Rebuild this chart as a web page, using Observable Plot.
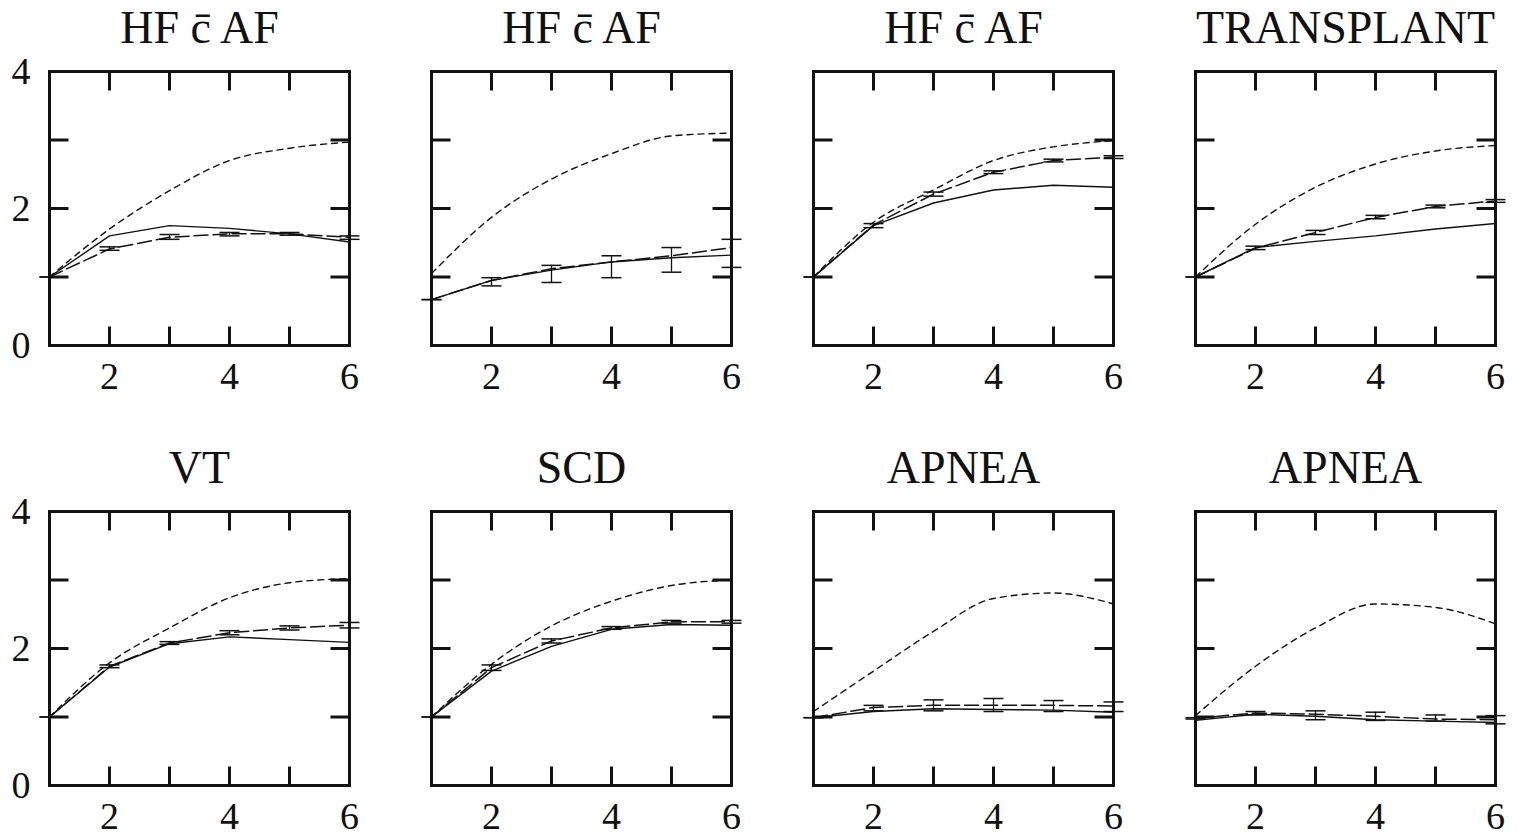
<!DOCTYPE html>
<html>
<head>
<meta charset="utf-8">
<script src="https://cdn.jsdelivr.net/npm/d3@7"></script>
<script src="https://cdn.jsdelivr.net/npm/@observablehq/plot@0.6"></script>
<style>
  html, body { margin: 0; padding: 0; background: #fff; overflow: hidden; font-family: "Liberation Serif", serif; }
  #chart { position: relative; width: 1518px; height: 834px; background: #fff; }
  #chart svg { position: absolute; overflow: visible; }
  #chart svg text { font-family: "Liberation Serif", serif !important; }
</style>
</head>
<body>
<div id="chart"></div>
<script>
// ---- data ----
const titles = ["HF c\u0304 AF", "HF c\u0304 AF", "HF c\u0304 AF", "TRANSPLANT", "VT", "SCD", "APNEA", "APNEA"];
const steps = [1, 2, 3, 4, 5, 6];
const xTickLabels = [2, 4, 6];
const yTickLabels = [0, 2, 4];
const innerXTicks = [2, 3, 4, 5];
const innerYTicks = [1, 2, 3];

// solid line
const solidSeries = [
  [1.00, 1.60, 1.75, 1.71, 1.63, 1.51],
  [0.67, 0.95, 1.10, 1.22, 1.28, 1.32],
  [1.00, 1.75, 2.08, 2.27, 2.34, 2.31],
  [1.00, 1.43, 1.52, 1.60, 1.70, 1.78],
  [1.00, 1.73, 2.07, 2.17, 2.13, 2.09],
  [1.00, 1.67, 2.03, 2.28, 2.35, 2.34],
  [0.99, 1.08, 1.12, 1.11, 1.10, 1.07],
  [0.95, 1.04, 1.01, 0.96, 0.94, 0.92]
];
// long-dashed line (with error bars)
const dashedSeries = [
  [1.00, 1.41, 1.58, 1.63, 1.63, 1.58],
  [0.67, 0.95, 1.12, 1.22, 1.31, 1.43],
  [1.00, 1.76, 2.21, 2.53, 2.70, 2.75],
  [1.00, 1.42, 1.65, 1.87, 2.03, 2.11],
  [1.00, 1.74, 2.08, 2.23, 2.30, 2.34],
  [1.00, 1.72, 2.11, 2.30, 2.39, 2.39],
  [0.99, 1.14, 1.17, 1.17, 1.17, 1.16],
  [0.98, 1.06, 1.04, 1.01, 0.97, 0.96]
];
const dashedLow = [
  [1.00, 1.39, 1.55, 1.60, 1.61, 1.55],
  [0.67, 0.87, 0.92, 0.99, 1.07, 1.14],
  [1.00, 1.72, 2.18, 2.51, 2.68, 2.73],
  [1.00, 1.40, 1.62, 1.85, 2.01, 2.09],
  [1.00, 1.72, 2.06, 2.20, 2.27, 2.30],
  [1.00, 1.68, 2.08, 2.28, 2.37, 2.37],
  [0.99, 1.09, 1.09, 1.08, 1.08, 1.08],
  [0.97, 1.03, 0.96, 0.95, 0.94, 0.90]
];
const dashedHigh = [
  [1.00, 1.44, 1.62, 1.65, 1.65, 1.60],
  [0.67, 0.99, 1.17, 1.31, 1.43, 1.55],
  [1.00, 1.78, 2.24, 2.55, 2.72, 2.77],
  [1.00, 1.45, 1.68, 1.90, 2.05, 2.13],
  [1.00, 1.76, 2.10, 2.26, 2.33, 2.38],
  [1.00, 1.76, 2.14, 2.32, 2.41, 2.41],
  [0.99, 1.17, 1.25, 1.27, 1.24, 1.22],
  [0.99, 1.08, 1.09, 1.07, 1.03, 1.02]
];
// short-dashed line
const dottedSeries = [
  [1.00, 1.70, 2.26, 2.70, 2.88, 2.97],
  [1.05, 1.87, 2.43, 2.80, 3.06, 3.10],
  [1.00, 1.80, 2.27, 2.70, 2.90, 2.99],
  [1.00, 1.77, 2.31, 2.65, 2.84, 2.92],
  [1.00, 1.79, 2.30, 2.74, 2.96, 3.02],
  [1.00, 1.77, 2.33, 2.69, 2.92, 3.00],
  [1.08, 1.67, 2.25, 2.73, 2.81, 2.65],
  [1.02, 1.74, 2.30, 2.65, 2.60, 2.36]
];

// ---- drawing ----
const ink = "#111";
const font = "Liberation Serif";
const tickLen = 19;
const sym = (fn) => ({ draw(ctx) { fn(ctx); } });
const tickUp = sym(c => { c.moveTo(0, 0); c.lineTo(0, -tickLen); });
const tickDown = sym(c => { c.moveTo(0, 0); c.lineTo(0, tickLen); });
const tickRight = sym(c => { c.moveTo(0, 0); c.lineTo(tickLen, 0); });
const tickLeft = sym(c => { c.moveTo(0, 0); c.lineTo(-tickLen, 0); });
const capSym = sym(c => { c.moveTo(-10, 0); c.lineTo(10, 0); });

const chart = document.getElementById("chart");

titles.forEach((title, i) => {
  const row = Math.floor(i / 4), col = i % 4;
  const tidy = (arr) => steps.map((x, k) => ({ x, y: arr[i][k] }));
  const solid = tidy(solidSeries);
  const dashed = tidy(dashedSeries);
  const dotted = tidy(dottedSeries);
  const bars = steps.map((x, k) => ({ x, lo: dashedLow[i][k], hi: dashedHigh[i][k] }));

  const marks = [
    Plot.line(dotted, { x: "x", y: "y", stroke: ink, strokeWidth: 1.4, strokeDasharray: "6,5", curve: "monotone-x" }),
    Plot.line(dashed, { x: "x", y: "y", stroke: ink, strokeWidth: 1.5, strokeDasharray: "14,5" }),
    Plot.ruleX(bars, { x: "x", y1: "lo", y2: "hi", stroke: ink, strokeWidth: 1.3 }),
    Plot.dot(bars, { x: "x", y: "lo", symbol: capSym, r: 10, stroke: ink, fill: "none", strokeWidth: 1.5 }),
    Plot.dot(bars, { x: "x", y: "hi", symbol: capSym, r: 10, stroke: ink, fill: "none", strokeWidth: 1.5 }),
    Plot.line(solid, { x: "x", y: "y", stroke: ink, strokeWidth: 1.4 }),
    // inward ticks
    Plot.dot(innerXTicks, { x: d => d, y: 0, symbol: tickUp, stroke: ink, fill: "none", strokeWidth: 3 }),
    Plot.dot(innerXTicks, { x: d => d, y: 4, symbol: tickDown, stroke: ink, fill: "none", strokeWidth: 3 }),
    Plot.dot(innerYTicks, { x: 1, y: d => d, symbol: tickRight, stroke: ink, fill: "none", strokeWidth: 3 }),
    Plot.dot(innerYTicks, { x: 6, y: d => d, symbol: tickLeft, stroke: ink, fill: "none", strokeWidth: 3 }),
    Plot.frame({ stroke: ink, strokeWidth: 3 }),
    // x tick labels
    Plot.text(xTickLabels, { x: d => d, frameAnchor: "bottom", dy: 31, text: d => String(d), fontSize: 38, fontFamily: font, fill: ink, lineAnchor: "middle" }),
    // title
    Plot.text([title], { frameAnchor: "top", dy: -43, text: d => d, fontSize: 46, fontFamily: font, fill: ink, lineAnchor: "middle" })
  ];
  if (col === 0) {
    marks.push(Plot.text(yTickLabels, { y: d => d, frameAnchor: "left", dx: -19, textAnchor: "end", text: d => String(d), fontSize: 38, fontFamily: font, fill: ink, lineAnchor: "middle" }));
  }

  const svg = Plot.plot({
    width: 372,
    height: 394,
    marginLeft: 49,
    marginRight: 23,
    marginTop: 71,
    marginBottom: 49,
    x: { domain: [1, 6], axis: null },
    y: { domain: [0, 4], axis: null },
    style: { fontFamily: font, background: "transparent", overflow: "visible" },
    marks
  });
  svg.setAttribute("font-family", font);
  svg.querySelectorAll("g, text").forEach(el => {
    if (el.hasAttribute("font-family")) el.setAttribute("font-family", font);
  });
  svg.querySelectorAll("text").forEach(el => {
    el.setAttribute("font-family", font);
    el.style.fontFamily = "'Liberation Serif', serif";
  });
  svg.style.left = (col * 382) + "px";
  svg.style.top = (row * 440) + "px";
  chart.appendChild(svg);
});
</script>
</body>
</html>
